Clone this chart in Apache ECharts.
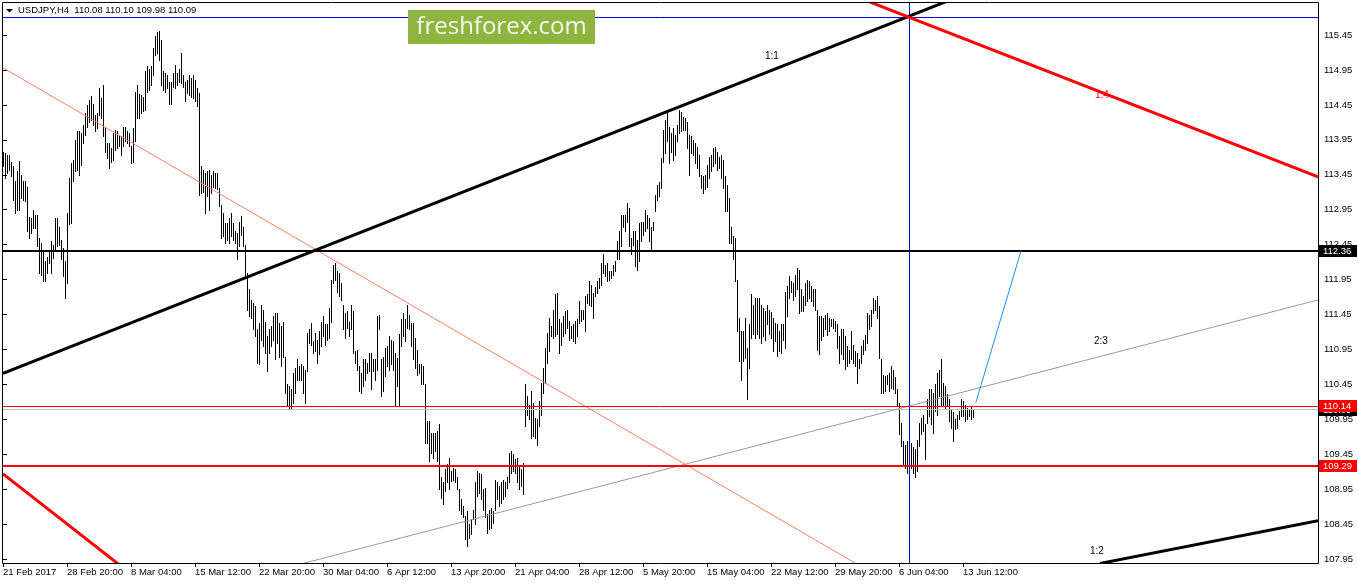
<!DOCTYPE html>
<html><head><meta charset="utf-8">
<script src="https://cdn.jsdelivr.net/npm/echarts@6/dist/echarts.min.js"></script>
<style>html,body{margin:0;padding:0;background:#fff;}#c{width:1358px;height:584px;}</style>
</head><body><div id="c"></div>
<script>
// ---- data (USDJPY H4, bar highs and lows, bar index 0 = 21 Feb 2017 12:00) ----
const highs = [
113.78,113.76,113.74,113.74,113.64,113.57,113.36,113.50,113.65,113.45,
113.36,113.36,113.28,112.85,112.83,112.95,112.88,112.88,112.55,112.47,
112.36,112.21,112.28,112.36,112.50,112.45,112.83,112.83,112.71,112.52,
112.40,112.21,112.90,113.40,113.62,113.66,113.95,114.07,114.07,114.05,
114.16,114.33,114.45,114.52,114.58,114.47,114.31,114.33,114.69,114.55,
114.74,114.14,113.90,113.90,113.83,114.05,114.09,114.07,114.02,114.00,
114.14,114.14,114.07,114.05,113.86,114.12,114.64,114.74,114.60,114.59,
114.57,114.93,115.00,114.97,115.00,115.26,115.43,115.50,115.51,115.38,
114.93,114.90,114.88,114.78,114.78,114.90,115.02,114.90,114.97,115.19,
114.88,114.78,114.81,114.88,114.83,114.88,114.81,114.69,114.62,
113.57,113.52,113.47,113.50,113.52,113.45,113.50,113.47,113.47,113.26,
113.02,112.90,112.76,112.76,112.83,112.90,112.76,112.64,112.62,112.78,
112.86,112.71,112.45,112.05,111.81,111.66,111.62,111.57,111.24,111.33,
111.59,111.52,111.35,111.14,111.24,111.28,111.43,111.47,111.47,111.33,
111.28,111.35,110.85,110.45,110.43,110.38,110.62,110.69,110.81,110.71,
110.74,110.71,110.66,111.19,111.24,111.33,111.07,111.19,111.09,111.21,
111.35,111.43,111.31,111.31,111.54,111.95,112.16,112.19,112.07,112.05,
111.90,111.59,111.47,111.50,111.35,111.59,111.50,110.93,110.95,110.71,
110.62,110.81,110.81,110.76,110.90,110.90,110.81,110.81,111.43,111.45,
110.81,110.85,110.97,111.00,111.14,111.09,111.07,
110.90,110.83,111.17,111.38,111.47,111.38,111.59,111.45,111.33,111.33,
111.12,110.95,110.74,110.74,110.71,110.45,109.93,109.93,109.76,109.76,
109.76,109.78,109.88,109.12,109.05,109.24,109.31,109.40,109.21,109.26,
109.24,109.12,108.95,108.81,108.71,108.57,108.64,108.45,108.52,108.66,
109.05,109.21,109.19,109.17,108.95,108.97,108.59,108.66,108.69,108.64,
109.09,109.05,109.00,109.05,109.09,109.05,109.12,109.47,109.50,109.45,
109.38,109.40,109.28,109.24,109.33,110.45,110.28,110.16,110.35,110.19,
109.97,109.95,110.21,110.47,110.69,110.97,111.19,111.40,111.28,111.52,
111.74,111.76,111.38,111.33,111.43,111.50,111.52,111.36,111.28,111.31,
111.36,111.38,111.64,111.52,111.52,111.71,111.74,111.93,
111.88,111.76,111.85,111.93,111.97,112.19,112.31,112.16,112.19,112.07,
112.07,112.16,112.21,112.50,112.64,112.88,112.88,112.88,113.05,112.97,
112.55,112.64,112.64,112.52,112.76,112.78,112.78,112.95,112.88,112.83,
112.71,112.78,113.16,113.31,113.35,113.69,114.09,114.24,114.35,114.14,
114.05,114.12,114.02,114.16,114.38,114.35,114.28,114.26,114.21,114.02,
114.00,113.95,113.90,113.85,113.74,113.45,113.43,113.45,113.59,113.71,
113.74,113.83,113.85,113.78,113.71,113.74,113.66,113.43,113.31,113.12,
112.71,112.57,112.55,111.95,111.40,111.21,111.21,111.40,110.97,111.31,
111.74,111.59,111.69,111.69,111.69,111.59,111.55,111.50,111.59,111.52,
111.48,111.40,111.33,111.31,111.21,111.31,111.31,
111.78,111.86,112.00,111.93,111.90,112.02,112.12,112.09,111.81,111.71,
111.90,111.95,111.93,111.86,111.81,111.81,111.52,111.43,111.43,111.40,
111.45,111.47,111.40,111.38,111.38,111.36,111.31,111.14,111.24,111.24,
111.14,111.00,110.95,111.21,111.02,110.93,110.90,110.81,111.00,111.09,
111.16,111.47,111.45,111.52,111.69,111.66,111.71,111.57,110.81,110.59,
110.57,110.59,110.62,110.71,110.66,110.55,110.38,110.19,109.90,109.64,
109.59,109.64,109.83,109.62,109.55,109.52,109.66,109.90,109.97,110.02,
109.88,110.24,110.38,110.38,110.33,110.45,110.62,110.66,110.81,110.47,
110.43,110.31,110.24,110.09,110.05,109.95,110.02,110.07,110.24,110.21,
110.16,110.12,110.09,110.14,110.10
];
const lows = [
113.57,113.40,113.47,113.52,113.43,113.09,112.90,112.95,112.95,113.12,
113.09,113.07,112.64,112.55,112.62,112.69,112.69,112.43,112.05,112.02,
111.93,111.93,112.05,112.19,112.05,112.26,112.36,112.43,112.45,112.24,
112.00,111.69,111.90,112.74,112.76,113.36,113.50,113.52,113.45,113.59,
113.90,114.02,114.14,114.21,114.24,114.16,114.07,114.12,114.31,114.26,
114.00,113.78,113.69,113.55,113.64,113.66,113.81,113.83,113.86,113.74,
113.86,113.93,113.90,113.86,113.62,113.64,113.93,114.26,114.26,114.33,
114.36,114.38,114.64,114.66,114.74,114.88,115.16,115.19,115.09,114.74,
114.66,114.64,114.69,114.47,114.47,114.71,114.69,114.74,114.78,114.76,
114.71,114.50,114.62,114.59,114.57,114.55,114.50,114.43,113.16,
113.19,113.21,112.90,113.14,112.95,113.19,113.28,113.26,113.24,113.00,
112.54,112.57,112.47,112.52,112.47,112.57,112.52,112.47,112.25,112.43,
112.59,112.43,112.00,111.52,111.43,111.40,111.24,111.14,110.76,110.74,
111.09,111.00,110.90,110.64,110.90,111.00,111.09,110.81,111.05,110.85,
110.71,110.85,110.33,110.16,110.12,110.12,110.19,110.33,110.52,110.52,
110.52,110.33,110.19,110.64,111.05,111.02,110.90,110.93,110.76,110.88,
111.00,111.14,111.02,111.09,111.12,111.35,111.90,111.95,111.78,111.71,
111.66,111.24,111.12,111.26,111.14,111.24,110.90,110.76,110.66,110.35,
110.33,110.43,110.52,110.62,110.64,110.38,110.64,110.52,110.66,111.24,
110.28,110.35,110.57,110.71,110.66,110.74,110.66,
110.14,110.43,110.14,111.00,111.14,111.07,111.26,111.24,111.00,110.81,
110.69,110.59,110.62,110.45,110.45,109.62,109.62,109.35,109.47,109.40,
109.50,109.35,108.95,108.83,108.74,108.93,109.05,108.95,109.07,109.09,
109.05,108.95,108.66,108.59,108.55,108.24,108.14,108.26,108.31,108.52,
108.45,108.85,108.90,108.81,108.66,108.55,108.33,108.38,108.40,108.47,
108.66,108.81,108.71,108.76,108.81,108.85,108.97,109.05,109.19,109.21,
109.19,109.05,108.95,109.00,108.88,109.85,110.02,109.95,109.69,109.71,
109.69,109.59,109.85,110.02,110.33,110.47,110.76,110.93,111.14,111.12,
111.14,111.17,110.90,111.02,111.14,111.19,111.26,111.09,111.12,111.07,
111.05,111.14,111.33,111.36,111.38,111.21,111.62,111.59,
111.57,111.40,111.71,111.76,111.83,111.88,112.05,112.00,111.93,111.95,
111.97,112.02,112.07,112.24,112.24,112.43,112.71,112.64,112.78,112.43,
112.31,112.45,112.14,112.09,112.21,112.50,112.59,112.64,112.69,112.50,
112.36,112.66,112.93,113.09,113.14,113.26,113.64,113.76,113.93,113.62,
113.78,113.66,113.74,113.93,114.05,114.07,114.09,114.09,113.83,113.45,
113.76,113.74,113.62,113.55,113.43,113.26,113.19,113.24,113.28,113.40,
113.50,113.57,113.62,113.52,113.55,113.40,113.26,112.93,112.93,112.48,
112.48,112.24,111.93,111.21,110.79,110.52,110.79,110.83,110.24,110.69,
111.12,111.17,111.12,111.17,111.12,111.05,111.14,111.09,111.31,111.17,
111.12,110.93,111.07,110.86,110.93,110.90,111.09,
110.97,111.43,111.69,111.78,111.66,111.71,111.81,111.47,111.50,111.50,
111.59,111.64,111.69,111.64,111.57,111.52,110.95,110.88,111.09,111.14,
111.24,111.16,111.21,111.28,111.26,111.21,110.97,110.76,110.88,110.81,
110.67,110.71,110.76,110.81,110.76,110.71,110.47,110.69,110.76,110.88,
110.95,111.05,111.24,111.28,111.47,111.52,111.40,110.83,110.33,110.33,
110.36,110.45,110.36,110.40,110.38,110.33,110.14,109.74,109.57,109.28,
109.26,109.19,109.45,109.26,109.19,109.12,109.21,109.57,109.74,109.78,
109.38,109.90,110.00,109.88,109.76,110.07,110.02,110.28,110.14,110.14,
110.12,110.14,109.93,109.83,109.64,109.81,109.83,109.95,110.00,110.00,
109.93,109.95,110.00,109.95,109.98
];
const symbolTitle = 'USDJPY,H4';
const lastOHLC = [110.08, 110.10, 109.98, 110.09];
const yTicks = [107.95,108.45,108.95,109.45,109.95,110.45,110.95,111.45,111.95,112.45,112.95,113.45,113.95,114.45,114.95,115.45];
const xTickIdx = [0,32,64,96,128,160,192,224,256,288,320,352,384,416,448,480];
const xTickLabels = ['21 Feb 2017','28 Feb 20:00','8 Mar 04:00','15 Mar 12:00','22 Mar 20:00','30 Mar 04:00','6 Apr 12:00','13 Apr 20:00','21 Apr 04:00','28 Apr 12:00','5 May 20:00','15 May 04:00','22 May 12:00','29 May 20:00','6 Jun 04:00','13 Jun 12:00'];
// horizontal levels
const resistanceLevel = 112.36;
const supportLevels = [110.14, 109.29];
const bidLevel = lastOHLC[3];
const topHLine = 115.70;
const vLineBar = 453.25;
// drawn lines: [barIndex, price] endpoints
const gann11 = [[0, 110.61], [473.5, 115.95]];
const gann14 = [[431, 115.95], [657.5, 113.42]];
const gann12 = [[548.5, 107.89], [657.5, 108.50]];
const gann23 = [[150, 107.89], [657.5, 111.66]];
const salmonLine = [[0, 114.98], [430, 107.83]];
const redLeftLine = [[0, 109.17], [59.5, 107.84]];
const blueLine = [[486.4, 110.19], [509, 112.36]];
const textMarks = [
  {t:'1:1', at:[381, 115.15], c:'#000'},
  {t:'1:4', at:[546, 114.59], c:'#ff0000'},
  {t:'2:3', at:[545.5, 111.07], c:'#000'},
  {t:'1:2', at:[543.5, 108.07], c:'#000'}
];

const FONT = 'Liberation Sans, Arial, sans-serif';
const X_MAX = 657.5, Y_MIN = 107.896, Y_MAX = 115.908;

function seg(pts, color, width, z) {
  return {
    type: 'custom', coordinateSystem: 'cartesian2d', clip: true, silent: true, z: z || 3,
    data: [[pts[0][0], pts[0][1], pts[1][0], pts[1][1]]],
    encode: {x: [0, 2], y: [1, 3]},
    renderItem: function (p, api) {
      let a = api.coord([api.value(0), api.value(1)]);
      let b = api.coord([api.value(2), api.value(3)]);
      if (Math.abs(a[1] - b[1]) < 0.01) {
        const y = width % 2 ? Math.floor(a[1]) + 0.5 : Math.round(a[1]);
        a[1] = b[1] = y;
      }
      if (Math.abs(a[0] - b[0]) < 0.01) {
        const x = width % 2 ? Math.floor(a[0]) + 0.5 : Math.round(a[0]);
        a[0] = b[0] = x;
      }
      return {type: 'line', shape: {x1: a[0], y1: a[1], x2: b[0], y2: b[1]},
              style: {stroke: color, lineWidth: width, lineCap: 'butt'}};
    }
  };
}
function priceTag(values, bg) {
  return {
    type: 'custom', coordinateSystem: 'cartesian2d', clip: false, silent: true, z: 10,
    data: values.map(v => [X_MAX, v]),
    encode: {x: 0, y: 1},
    renderItem: function (p, api) {
      const v = api.value(1);
      const pt = api.coord([api.value(0), v]);
      const y = Math.round(pt[1]);
      return {type: 'group', children: [
        {type: 'rect', shape: {x: pt[0] + 1, y: y - 6, width: 38, height: 12}, style: {fill: bg}},
        {type: 'text', x: pt[0] + 5, y: y, style: {text: v.toFixed(2), fill: '#fff', font: '9.5px ' + FONT, verticalAlign: 'middle', align: 'left'}}
      ]};
    }
  };
}

const chart = echarts.init(document.getElementById('c'), null, {renderer: 'canvas'});
const series = [
  {
    type: 'custom', name: symbolTitle, coordinateSystem: 'cartesian2d', clip: true, silent: true, z: 2,
    data: highs.map((h, i) => [i, h, lows[i]]),
    encode: {x: 0, y: [1, 2]},
    renderItem: function (p, api) {
      const i = api.value(0);
      const a = api.coord([i, api.value(1)]);
      const b = api.coord([i, api.value(2)]);
      const x = Math.floor(a[0]) + 0.5;
      return {type: 'line', shape: {x1: x, y1: Math.round(a[1]), x2: x, y2: Math.round(b[1]) + 1},
              style: {stroke: '#000', lineWidth: 1, lineCap: 'butt'}};
    }
  },
  seg([[0, bidLevel], [X_MAX, bidLevel]], '#c0c0c0', 1),
  seg(salmonLine, '#f4825f', 1),
  seg(gann23, '#9a9a9a', 1),
  seg([[0, topHLine], [X_MAX, topHLine]], '#0000e6', 1),
  seg([[vLineBar, Y_MIN], [vLineBar, Y_MAX]], '#0000e6', 1),
  seg([[0, resistanceLevel], [X_MAX, resistanceLevel]], '#000', 2),
  seg([[0, supportLevels[0]], [X_MAX, supportLevels[0]]], '#ff0000', 1),
  seg([[0, supportLevels[1]], [X_MAX, supportLevels[1]]], '#ff0000', 2),
  seg(gann11, '#000', 3),
  seg(gann14, '#ff0000', 3),
  seg(gann12, '#000', 3),
  seg(redLeftLine, '#ff0000', 3),
  seg(blueLine, '#1e90ff', 1),
  {
    type: 'custom', coordinateSystem: 'cartesian2d', clip: false, silent: true, z: 6,
    data: textMarks.map(m => m.at),
    encode: {x: 0, y: 1},
    renderItem: function (p, api) {
      const m = textMarks[p.dataIndex];
      const pt = api.coord([api.value(0), api.value(1)]);
      return {type: 'text', x: pt[0], y: pt[1], style: {text: m.t, fill: m.c, font: '10px ' + FONT, verticalAlign: 'middle', align: 'left'}};
    }
  },
  priceTag([bidLevel], '#000'),
  priceTag([resistanceLevel], '#000'),
  priceTag(supportLevels, '#ff0000')
];

chart.setOption({
  animation: false,
  backgroundColor: '#fff',
  grid: {left: 3, top: 3, right: 40, bottom: 21, containLabel: false},
  xAxis: {
    type: 'value', min: 0, max: X_MAX,
    splitLine: {show: false}, axisLine: {show: false},
    axisTick: {show: true, customValues: xTickIdx, length: 4, lineStyle: {color: '#000'}},
    axisLabel: {customValues: xTickIdx, formatter: v => xTickLabels[xTickIdx.indexOf(v)] || '',
      align: 'left', margin: 4, fontFamily: FONT, fontSize: 9.5, color: '#000'}
  },
  yAxis: {
    type: 'value', position: 'right', min: Y_MIN, max: Y_MAX, scale: true,
    splitLine: {show: false}, axisLine: {show: false},
    axisTick: {show: true, customValues: yTicks, length: 4, lineStyle: {color: '#000'}},
    axisLabel: {customValues: yTicks, formatter: v => v.toFixed(2), margin: 6,
      fontFamily: FONT, fontSize: 9.5, color: '#000'}
  },
  graphic: [
    {type: 'rect', z: 20, silent: true, shape: {x: 2.5, y: 2.5, width: 1316, height: 561},
     style: {fill: 'none', stroke: '#000', lineWidth: 1}},
    {type: 'polygon', z: 20, silent: true, shape: {points: [[6, 9], [13, 9], [9.5, 12.5]]}, style: {fill: '#000'}},
    {type: 'text', z: 20, silent: true, x: 18, y: 10.5,
     style: {text: symbolTitle + '  ' + lastOHLC.map(v => v.toFixed(2)).join(' '), fill: '#000',
             font: '9.5px ' + FONT, verticalAlign: 'middle'}},
    {type: 'rect', z: 20, silent: true, shape: {x: 408, y: 10, width: 187, height: 34}, style: {fill: '#8db53f'}},
    {type: 'text', z: 21, silent: true, x: 501.5, y: 27,
     style: {text: 'freshforex.com', fill: '#f5f9ef', font: '24px "Open Sans", sans-serif', align: 'center', verticalAlign: 'middle'}}
  ],
  series: series
});
</script>
</body></html>
